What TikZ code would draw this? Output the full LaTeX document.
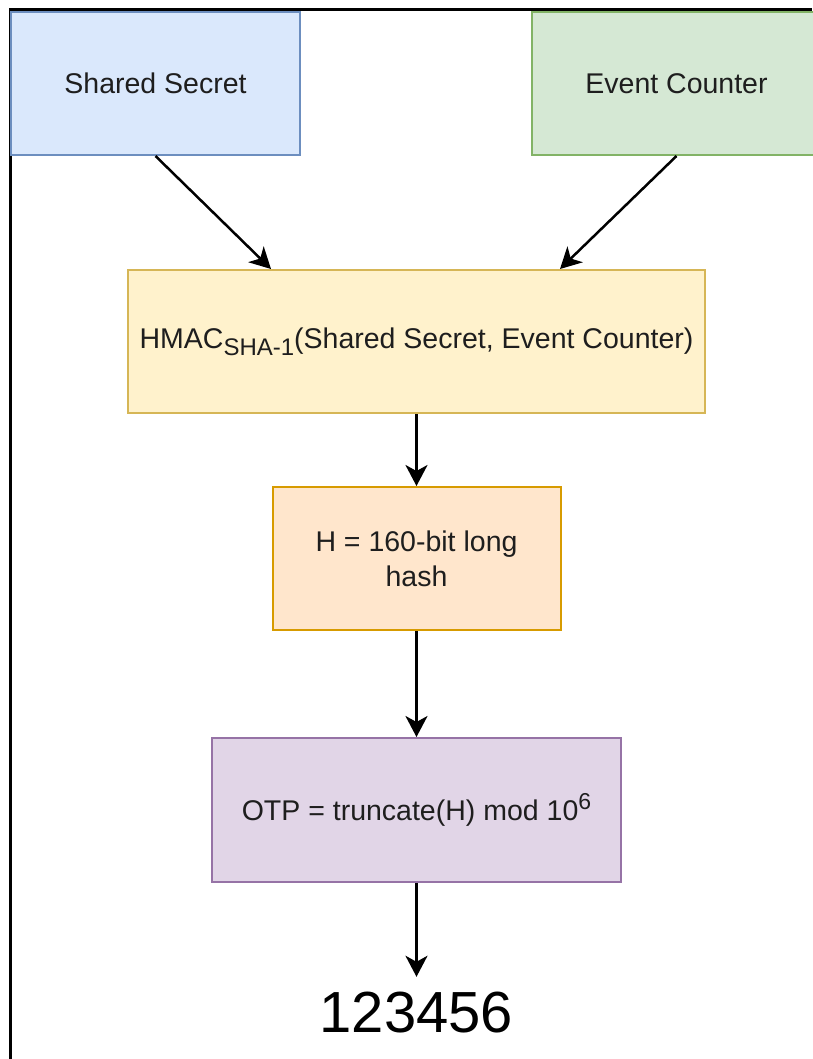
\documentclass[tikz,border=0pt]{standalone}
\usepackage{fontspec}
\setmainfont{Liberation Sans}
\usetikzlibrary{arrows.meta}

\definecolor{blueFill}{HTML}{DAE8FC}\definecolor{blueLine}{HTML}{6C8EBF}
\definecolor{greenFill}{HTML}{D5E8D4}\definecolor{greenLine}{HTML}{82B366}
\definecolor{yellowFill}{HTML}{FFF2CC}\definecolor{yellowLine}{HTML}{D6B656}
\definecolor{orangeFill}{HTML}{FFE6CC}\definecolor{orangeLine}{HTML}{D79B00}
\definecolor{purpleFill}{HTML}{E1D5E7}\definecolor{purpleLine}{HTML}{9673A6}
\definecolor{textDark}{HTML}{1E1E1E}

\tikzset{
  box/.style={rectangle, line width=2pt, text=textDark, align=center,
    font=\fontsize{28.5}{35}\selectfont, inner sep=0pt},
  arr/.style={line width=2.5pt, -{Stealth[length=21pt, width=22pt, inset=6pt]}},
  frameline/.style={line width=3pt, black},
}

\begin{document}
\begin{tikzpicture}[x=1pt, y=-1pt]
  \useasboundingbox (0,0) rectangle (812,1059);
  \fill[white] (0,0) rectangle (812,1059);

  % outer frame (left and top edges)
  \draw[frameline] (10,1059) -- (10,9.5) -- (812,9.5);

  % input boxes
  \node[box, fill=blueFill, draw=blueLine, minimum width=289pt, minimum height=143pt]
    (ss) at (155.5,83.5) {Shared Secret};
  \node[box, fill=greenFill, draw=greenLine, minimum width=289pt, minimum height=143pt]
    (ec) at (676.5,83.5) {Event Counter};

  % HMAC computation
  \node[box, fill=yellowFill, draw=yellowLine, minimum width=577pt, minimum height=143pt]
    (hm) at (416.5,341.5)
    {HMAC\raisebox{-7pt}{\fontsize{24}{24}\selectfont SHA-1}(Shared Secret, Event Counter)};

  % hash value
  \node[box, fill=orangeFill, draw=orangeLine, minimum width=288pt, minimum height=143pt]
    (hs) at (416.5,558.5) {H = 160-bit long\\hash};

  % truncation
  \node[box, fill=purpleFill, draw=purpleLine, minimum width=409pt, minimum height=144pt]
    (otp) at (416.5,810)
    {OTP = truncate(H) mod 10\raisebox{11pt}{\fontsize{23}{23}\selectfont 6}};

  % resulting one-time password
  \node[inner xsep=0pt, inner ysep=15pt, font=\fontsize{58}{58}\selectfont]
    (res) at (416.5,1012.5) {123456};

  % connectors
  \draw[arr] (ss.south) -- ([xshift=144pt]hm.north west);
  \draw[arr] (ec.south) -- ([xshift=-146pt]hm.north east);
  \draw[arr] (hm.south) -- (hs.north);
  \draw[arr] (hs.south) -- (otp.north);
  \draw[arr] (otp.south) -- (res.north);
\end{tikzpicture}
\end{document}
